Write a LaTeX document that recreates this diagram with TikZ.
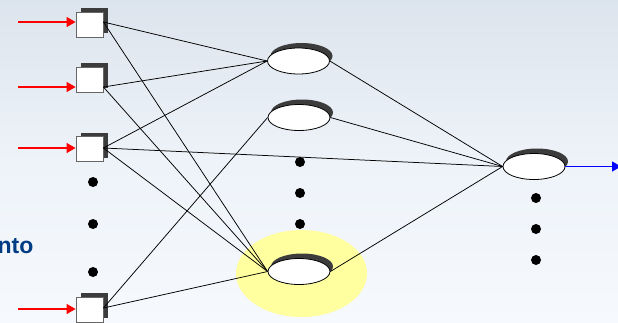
\documentclass[tikz,border=0pt]{standalone}
\usepackage{fontspec}
\setmainfont{Liberation Sans}
\usetikzlibrary{shapes.geometric,shadows,arrows.meta}
\definecolor{bgtop}{RGB}{220,228,237}
\definecolor{bgmid}{RGB}{238,243,249}
\definecolor{bgbot}{RGB}{246,249,253}
\definecolor{hilite}{RGB}{255,255,160}
\definecolor{titleblue}{RGB}{0,60,132}
\definecolor{shadowgray}{RGB}{60,60,60}
\definecolor{inred}{RGB}{255,0,0}
\definecolor{outblue}{RGB}{0,0,255}
\tikzset{
  inbox/.style={rectangle, draw=black!60, line width=0.8pt, fill=white,
    minimum width=27pt, minimum height=25pt, inner sep=0pt,
    general shadow={fill=shadowgray, shadow xshift=4.5pt, shadow yshift=4pt}},
  neuron/.style={ellipse, draw=black, line width=0.8pt, fill=white,
    minimum width=62pt, minimum height=26pt, inner sep=0pt,
    general shadow={fill=shadowgray, shadow xshift=3pt, shadow yshift=5pt}},
  wire/.style={draw=black, line width=0.75pt},
  inarrow/.style={draw=inred, line width=1.2pt, -{Triangle[length=9pt,width=10pt]}},
  outarrow/.style={draw=outblue, line width=1.2pt, -{Triangle[length=9pt,width=10pt]}},
  dotc/.style={circle, fill=black, minimum size=10pt, inner sep=0pt},
}
\begin{document}
\begin{tikzpicture}[x=1pt,y=-1pt]
\useasboundingbox (0,0) rectangle (618,322);
\clip (0,0) rectangle (618,322);
\shade[top color=bgtop, bottom color=bgbot, middle color=bgmid] (0,0) rectangle (618,322);

% highlight
\fill[hilite] (301.5,273.5) ellipse [x radius=65.5, y radius=43.5];

% partial title text
\node[anchor=base east, font=\bfseries\fontsize{23}{26}\selectfont, text=titleblue, inner sep=0pt] (txt) at (33.5,253) {nto};

% input boxes
\node[inbox] (s1) at (89.5,24.5) {};
\node[inbox] (s2) at (89.5,79.5) {};
\node[inbox] (s3) at (89.5,149) {};
\node[inbox] (s4) at (89.5,309.5) {};

% hidden neurons
\node[neuron] (h1) at (298.5,61) {};
\node[neuron] (h2) at (299,117.5) {};
\node[neuron] (h3) at (299,271.5) {};
% output neuron
\node[neuron] (o) at (534,166.5) {};

% input arrows
\coordinate (a1) at (18,22);
\coordinate (a2) at (18,87);
\coordinate (a3) at (18,148);
\coordinate (a4) at (18,309);
\draw[inarrow] (a1) -- (a1 -| s1.west);
\draw[inarrow] (a2) -- (a2 -| s2.west);
\draw[inarrow] (a3) -- (a3 -| s3.west);
\draw[inarrow] (a4) -- (a4 -| s4.west);

% connectors input -> hidden
\draw[wire] ([yshift=2.5pt]s1.east) -- (h1.west);
\draw[wire] ([yshift=2.5pt]s1.east) -- (h3.west);
\draw[wire] ([yshift=-7.5pt]s2.east) -- (h1.west);
\draw[wire] ([yshift=-7.5pt]s2.east) -- (h3.west);
\draw[wire] ([yshift=1pt]s3.east) -- (h1.west);
\draw[wire] ([yshift=1pt]s3.east) -- (o.west);
\draw[wire] ([yshift=1pt]s3.east) -- (h3.west);
\draw[wire] ([yshift=1.5pt]s4.east) -- (h2.west);
\draw[wire] ([yshift=1.5pt]s4.east) -- (h3.west);

% hidden -> output
\draw[wire] (h1.east) -- (o.west);
\draw[wire] (h2.east) -- (o.west);
\draw[wire] (h3.east) -- (o.west);

% output arrow
\coordinate (oend) at (621,166.5);
\draw[outarrow] (o.east) -- (oend);

% dots
\node[dotc] (d1) at (93,182) {};
\node[dotc] (d2) at (93,224) {};
\node[dotc] (d3) at (93,272) {};
\node[dotc] (d4) at (300,162) {};
\node[dotc] (d5) at (300,193) {};
\node[dotc] (d6) at (300,224) {};
\node[dotc] (d7) at (536,198) {};
\node[dotc] (d8) at (536,229) {};
\node[dotc] (d9) at (536,260) {};
\end{tikzpicture}
\end{document}
